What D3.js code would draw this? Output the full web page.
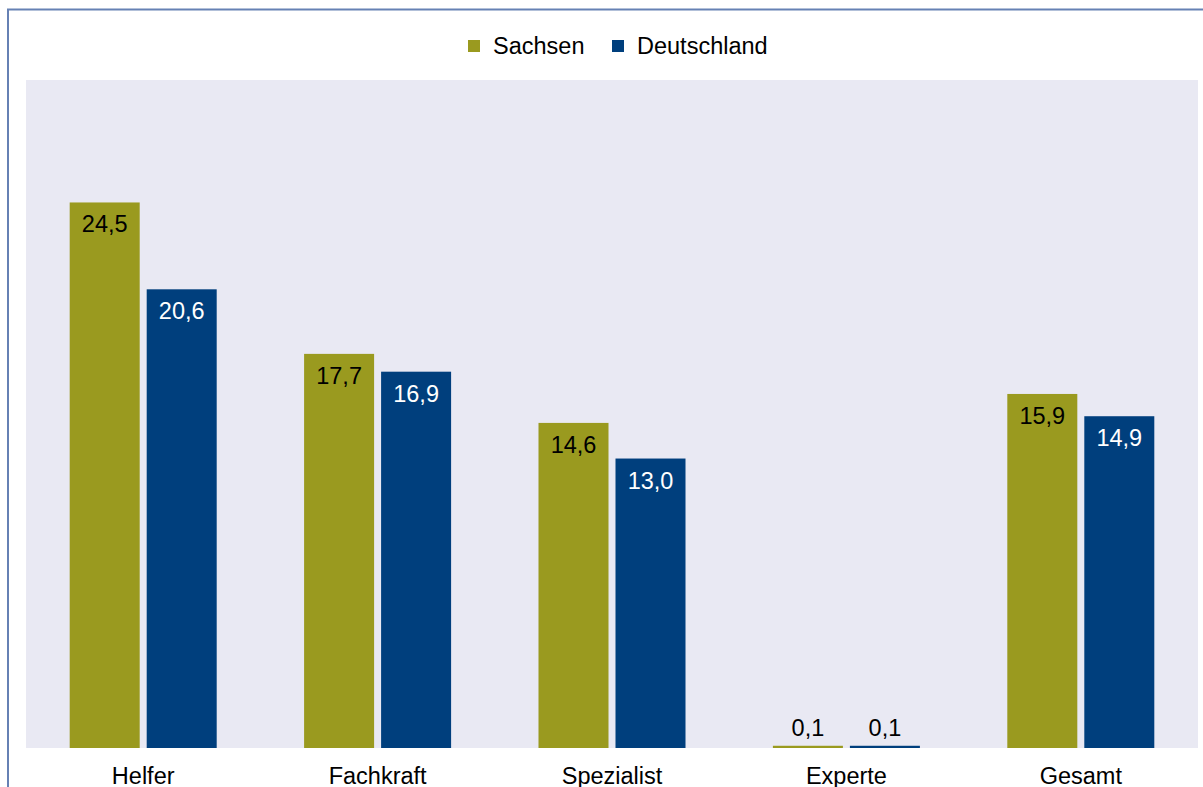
<!DOCTYPE html>
<html><head><meta charset="utf-8">
<script src="https://cdn.jsdelivr.net/npm/d3@7/dist/d3.min.js"></script>
<style>html,body{margin:0;padding:0;background:#fff;overflow:hidden}svg{display:block}</style>
</head><body>
<script>
const categories = ["Helfer", "Fachkraft", "Spezialist", "Experte", "Gesamt"];
const seriesNames = ["Sachsen", "Deutschland"];
const sachsen = [24.5, 17.7, 14.6, 0.1, 15.9];
const deutschland = [20.6, 16.9, 13.0, 0.1, 14.9];
const colors = ["#9a9a1f", "#003f7d"];
const labelColors = ["#000000", "#ffffff"];

const W = 1203, H = 787;
const svg = d3.select("body").append("svg").attr("width", W).attr("height", H);
const font = "'Liberation Sans', Arial, sans-serif";
const fs = 23.5;

// frame
svg.append("rect").attr("x", 8).attr("y", 9.5).attr("width", W + 20).attr("height", H + 20)
  .attr("fill", "none").attr("stroke", "#6681b4").attr("stroke-width", 2);

const plot = {x0: 26, x1: 1198, y0: 80, y1: 748};
svg.append("rect").attr("x", plot.x0).attr("y", plot.y0)
  .attr("width", plot.x1 - plot.x0).attr("height", plot.y1 - plot.y0).attr("fill", "#e9e9f3");

const x = d3.scaleBand().domain(categories).range([plot.x0, plot.x1]).paddingInner(0).paddingOuter(0);
const y = d3.scaleLinear().domain([0, 30]).range([plot.y1, plot.y0]);
const barW = 70, gap = 7;

const data = [sachsen, deutschland];
data.forEach((vals, si) => {
  const g = svg.append("g");
  categories.forEach((c, i) => {
    const cx = x(c) + x.bandwidth() / 2;
    const bx = si === 0 ? cx - gap / 2 - barW : cx + gap / 2;
    const v = vals[i];
    g.append("rect").attr("x", bx).attr("y", y(v)).attr("width", barW)
      .attr("height", y(0) - y(v)).attr("fill", colors[si]);
    const inside = (y(0) - y(v)) > 40;
    g.append("text").attr("x", bx + barW / 2)
      .attr("y", inside ? y(v) + 30 : y(v) - 10)
      .attr("text-anchor", "middle").attr("font-family", font).attr("font-size", fs)
      .attr("fill", inside ? labelColors[si] : "#000").text(d3.format(".1f")(v).replace(".", ","));
  });
});

// category axis labels
const xAxis = d3.axisBottom(x).tickSize(0).tickPadding(0);
const ax = svg.append("g").attr("transform", `translate(0,${plot.y1})`).call(xAxis);
ax.select(".domain").remove();
ax.selectAll("text").attr("font-family", font).attr("font-size", fs).attr("fill", "#000")
  .attr("dy", null).attr("y", 35.5);

// legend
const legend = svg.append("g");
const legendItems = [{x: 468, tx: 493}, {x: 612, tx: 637}];
seriesNames.forEach((n, i) => {
  legend.append("rect").attr("x", legendItems[i].x).attr("y", 40).attr("width", 12).attr("height", 12).attr("fill", colors[i]);
  legend.append("text").attr("x", legendItems[i].tx).attr("y", 54).attr("font-family", font)
    .attr("font-size", fs).attr("fill", "#000").text(n);
});
</script>
</body></html>
